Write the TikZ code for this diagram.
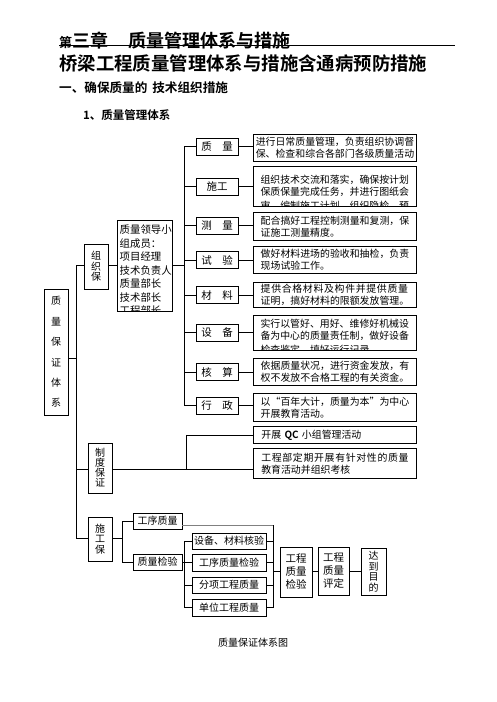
\documentclass[tikz,border=0pt]{standalone}
\usepackage{fontspec}
\setmainfont{Noto Sans CJK SC}[BoldFont={Noto Sans CJK SC Bold}]
\begin{document}
\begin{tikzpicture}[x=1pt,y=-1pt,
  ln/.style={line width=0.9pt},
  bx/.style={draw, line width=0.9pt, inner sep=0pt},
  lab/.style={bx, minimum width=42pt, minimum height=17pt, font=\fontsize{10.5}{12}\selectfont},
  desc/.style={bx, anchor=north west, minimum width=163pt, align=left, font=\fontsize{9.9}{11.8}\selectfont},
  ebox/.style={bx, anchor=north west, minimum width=163pt},
  tl/.style={anchor=base west, inner sep=0pt, font=\fontsize{9.9}{11.8}\selectfont},
  ll/.style={anchor=base west, inner sep=0pt, font=\fontsize{10.4}{12}\selectfont},
  vt/.style={bx, align=center, font=\fontsize{10}{10.5}\selectfont},
  sm/.style={bx, font=\fontsize{10}{12}\selectfont},
]
\useasboundingbox[fill=white] (0,0) rectangle (496,702);

% headings
\node[anchor=base west, inner sep=0pt, font=\bfseries] (h1) at (59,47.5)
  {{\fontsize{13}{13}\selectfont 第}{\fontsize{18}{18}\selectfont 三章\hspace{20pt}质量管理体系与措施}};
\coordinate (hl1) at (59,45);
\coordinate (hl2) at (455,45);
\draw[line width=0.8pt] (hl1) -- (hl2);
\node[anchor=base west, inner sep=0pt, font=\bfseries\fontsize{18.4}{18.4}\selectfont] (h2) at (59,70.5)
  {桥梁工程质量管理体系与措施含通病预防措施};
\node[anchor=base west, inner sep=0pt, font=\bfseries\fontsize{12.6}{12.6}\selectfont] (h3) at (59,92.8)
  {一、确保质量的\hspace{5pt}技术组织措施};
\node[anchor=base west, inner sep=0pt, font=\bfseries\fontsize{11.5}{11.5}\selectfont] (h4) at (83,119.4)
  {1、质量管理体系};

% labels
\node[lab] (lq) at (217,146.5) {质　量};
\node[lab] (ls) at (217,186.5) {施工};
\node[lab] (lc) at (217,225.5) {测　量};
\node[lab] (lt) at (217,260) {试　验};
\node[lab] (lm) at (217,295) {材　料};
\node[lab] (le) at (217,332.5) {设　备};
\node[lab] (lh) at (217,372) {核　算};
\node[lab] (lx) at (217,405.5) {行　政};

% description boxes
\node[desc, minimum height=27pt] (d1) at (253,134) {进行日常质量管理，负责组织协调督\\保、检查和综合各部门各级质量活动};
\begin{scope}
  \clip (253,166.5) rectangle (416,205.5);
  \node[tl] (d2a) at (260.3,183) {组织技术交流和落实，确保按计划};
  \node[tl] (d2b) at (260.3,195.5) {保质保量完成任务，并进行图纸会};
  \node[tl] (d2c) at (260.3,209) {审、编制施工计划、组织隐检、预};
\end{scope}
\node[ebox, minimum height=40pt] (d2) at (253,166) {};
\node[desc, minimum height=28pt] (d3) at (253,212) {配合搞好工程控制测量和复测，保\\证施工测量精度。};
\node[desc, minimum height=27pt] (d4) at (253,246) {做好材料进场的验收和抽检，负责\\现场试验工作。};
\node[desc, minimum height=25pt] (d5) at (253,282) {{\addfontfeatures{LetterSpace=6.8}提供合格材料及构件并提供质量}\\证明，搞好材料的限额发放管理。};
\begin{scope}
  \clip (253,315.5) rectangle (416,349.5);
  \node[tl] (d6a) at (260.3,327) {实行以管好、用好、维修好机械设};
  \node[tl] (d6b) at (260.3,339.5) {备为中心的质量责任制，做好设备};
  \node[tl] (d6c) at (260.3,353) {检查鉴定，填好运行记录};
\end{scope}
\node[ebox, minimum height=35pt] (d6) at (253,315) {};
\node[desc, minimum height=27pt] (d7) at (253,358) {依据质量状况，进行资金发放，有\\权不发放不合格工程的有关资金。};
\node[desc, minimum height=28pt] (d8) at (253,393) {以“百年大计，质量为本”为中心\\开展教育活动。};
\node[desc, minimum height=17pt, text width=147pt, inner xsep=8pt] (qc) at (253,426) {开展 {\bfseries QC} 小组管理活动};
\node[desc, minimum height=30pt] (eb) at (253,448) {{\addfontfeatures{LetterSpace=6.8}工程部定期开展有针对性的质量}\\教育活动并组织考核};

% label -> description connectors
\foreach \a/\b in {lq/d1,ls/d2,lc/d3,lt/d4,lm/d5,le/d6,lh/d7,lx/d8}
  \draw[ln] (\a.east) -- (\a.east -| \b.west);

% bus to labels
\coordinate (bus2) at (184,0);
\draw[ln] (bus2 |- lq.west) -- (bus2 |- lx.west);
\foreach \a in {lq,ls,lc,lt,lm,le,lh,lx}
  \draw[ln] (bus2 |- \a.west) -- (\a.west);

% leader box
\begin{scope}
  \clip (117,220.5) rectangle (172,310.5);
  \node[ll] (la) at (119.5,233.5) {质量领导小};
  \node[ll] (lb) at (119.5,247) {组成员：};
  \node[ll] (lcc) at (119.5,260.5) {项目经理};
  \node[ll] (ld) at (119.5,274) {技术负责人};
  \node[ll] (lee) at (119.5,287.5) {质量部长};
  \node[ll] (lf) at (119.5,301) {技术部长};
  \node[ll] (lg) at (119.5,314.5) {工程部长};
\end{scope}
\node[bx, anchor=north west, minimum width=55pt, minimum height=91pt] (ldr) at (117,220) {};
\coordinate (pl1) at ([yshift=0.5pt]ldr.east);
\coordinate (pl2) at ([yshift=0.5pt]ldr.west);
\draw[ln] (pl1) -- (pl1 -| bus2);

% left column
\node[vt, minimum width=24pt, minimum height=45pt] (zzb) at (96,266.5) {组\\织\\保};
\node[vt, minimum width=24pt, minimum height=126pt, font=\fontsize{10}{20.4}\selectfont] (zlb) at (56,352) {质\\量\\保\\证\\体\\系};
\node[vt, minimum width=24pt, minimum height=50pt, font=\fontsize{10}{10}\selectfont] (zdb) at (100,468) {制\\度\\保\\证};
\node[vt, minimum width=24pt, minimum height=44pt] (zsb) at (100,539) {施\\工\\保};

\coordinate (pz1) at (zzb.east |- pl2);
\coordinate (pz2) at (zzb.west |- pl2);
\coordinate (pq1) at ([yshift=-6pt]zlb.east);
\coordinate (pd1) at ([yshift=-1pt]zdb.west);
\coordinate (pd2) at ([yshift=-1pt]zdb.east);
\coordinate (ps1) at ([yshift=1pt]zsb.west);
\coordinate (ps2) at ([yshift=1pt]zsb.east);

\draw[ln] (pz1) -- (pl2);

\coordinate (bus1) at (76,0);
\draw[ln] (bus1 |- pz2) -- (bus1 |- ps1);
\draw[ln] (bus1 |- pz2) -- (pz2);
\draw[ln] (pq1) -- (pq1 -| bus1);
\draw[ln] (bus1 |- pd1) -- (pd1);
\draw[ln] (bus1 |- ps1) -- (ps1);

% system guarantee branch
\coordinate (bus3) at (186,0);
\draw[ln] (pd2) -- (pd2 -| eb.west);
\draw[ln] (bus3 |- qc.west) -- (bus3 |- pd2);
\draw[ln] (bus3 |- qc.west) -- (qc.west);

% construction guarantee branch
\node[sm, minimum width=49pt, minimum height=16pt] (gx) at (157.5,521) {工序质量};
\node[sm, minimum width=49pt, minimum height=16pt] (zj) at (157.5,562) {质量检验};
\coordinate (bus4) at (122,0);
\draw[ln] (ps2) -- (ps2 -| bus4);
\draw[ln] (bus4 |- gx.west) -- (bus4 |- zj.west);
\draw[ln] (bus4 |- gx.west) -- (gx.west);
\draw[ln] (bus4 |- zj.west) -- (zj.west);

\node[sm, minimum width=74pt, minimum height=16pt] (c1) at (229,541) {设备、材料核验};
\node[sm, minimum width=74pt, minimum height=17pt] (c2) at (229,562.5) {工序质量检验};
\node[sm, minimum width=74pt, minimum height=16pt] (c3) at (229,585) {分项工程质量};
\node[sm, minimum width=74pt, minimum height=17pt] (c4) at (229,607.5) {单位工程质量};
\coordinate (bus5) at (184,0);
\draw[ln] (bus5 |- c1.west) -- (bus5 |- c4.west);
\draw[ln] (zj.east) -- (zj.east -| bus5);
\foreach \c in {c1,c2,c3,c4}
  \draw[ln] (bus5 |- \c.west) -- (\c.west);

\coordinate (bus6) at (273,0);
\coordinate (pg1) at ([yshift=-4pt]gx.east);
\draw[ln, gray] (pg1) -- (pg1 -| bus6);
\draw[ln] (pg1 -| bus6) -- (bus6 |- c4.east);
\foreach \c in {c1,c2,c3,c4}
  \draw[ln] (\c.east) -- (\c.east -| bus6);

\node[vt, minimum width=32pt, minimum height=50pt, font=\fontsize{10.5}{13}\selectfont] (gj) at (296,572) {工程\\质量\\检验};
\node[vt, minimum width=31pt, minimum height=48pt, font=\fontsize{10.5}{13}\selectfont] (gp) at (333.5,571) {工程\\质量\\评定};
\node[vt, minimum width=25pt, minimum height=47pt, font=\fontsize{10}{10.7}\selectfont] (dd) at (373.5,571.5) {达\\到\\目\\的};
\draw[ln] (bus6 |- gp.west) -- (gj.west |- gp.west);
\draw[ln] (gj.east |- gp.west) -- (gp.west);
\draw[ln] (gp.east) -- (gp.east -| dd.west);

\node[inner sep=0pt, font=\fontsize{10}{12}\selectfont] (cap) at (253,643) {质量保证体系图};
\end{tikzpicture}
\end{document}
